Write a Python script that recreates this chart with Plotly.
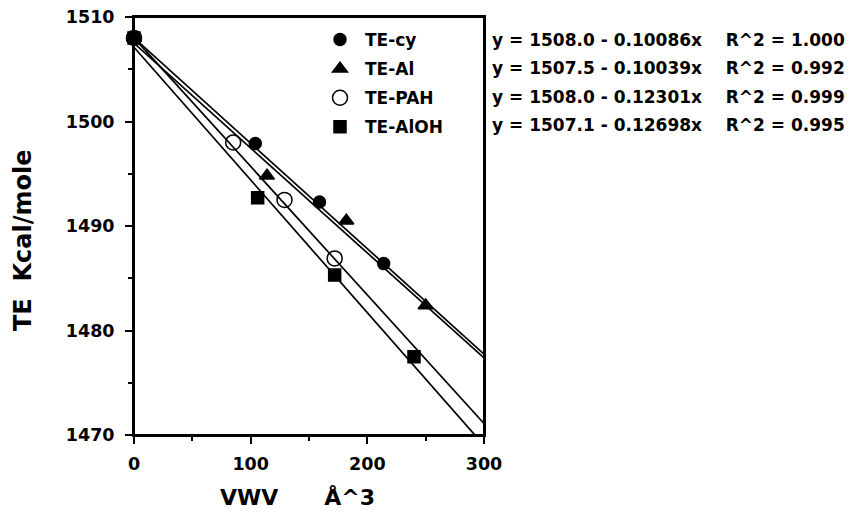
import plotly.graph_objects as go

# ---- data ----
series_names = ["TE-cy", "TE-Al", "TE-PAH", "TE-AlOH"]

cy_x = [0, 104, 159, 214]
cy_y = [1508.0, 1497.9, 1492.3, 1486.4]

al_x = [0, 114, 182, 250]
al_y = [1508.0, 1494.8, 1490.5, 1482.4]

pah_x = [0, 85, 129, 172]
pah_y = [1508.0, 1498.0, 1492.5, 1486.9]

aloh_x = [0, 106, 172, 240]
aloh_y = [1508.0, 1492.7, 1485.3, 1477.5]

intercepts = [1508.0, 1507.5, 1508.0, 1507.1]
slopes = [-0.10086, -0.10039, -0.12301, -0.12698]
r2_values = ["1.000", "0.992", "0.999", "0.995"]

fit_x_range = [0, 300]
x_ticks = [0, 100, 200, 300]
y_ticks = [1470, 1480, 1490, 1500, 1510]

FONT = "DejaVu Sans, sans-serif"

symbols = ["circle", "triangle-up", "circle-open", "square"]
sizes = [12, 13, 15, 12]
xs = [cy_x, al_x, pah_x, aloh_x]
ys = [cy_y, al_y, pah_y, aloh_y]

PW, PH = 350, 418  # plot area size in px
PL, PT = 134, 17   # plot area top-left in page px

fig = go.Figure()

# regression lines
for i in range(4):
    lx = fit_x_range
    ly = [intercepts[i] + slopes[i] * v for v in lx]
    fig.add_trace(go.Scatter(
        x=lx, y=ly, mode="lines",
        line=dict(color="black", width=1.7),
        showlegend=False, hoverinfo="skip",
    ))

# markers (cy drawn last so its filled dot sits on top at x=0)
order = [2, 3, 1, 0]
for i in order:
    fig.add_trace(go.Scatter(
        x=xs[i], y=ys[i], mode="markers",
        name=series_names[i],
        legendgroup=series_names[i],
        legendrank=i + 1,
        marker=dict(symbol=symbols[i], size=sizes[i], color="black",
                    line=dict(color="black", width=1.5)),
        cliponaxis=False,
    ))

# regression equations
row_px = [40, 68, 97, 125]
for i in range(4):
    txt = "y = %.1f - %.5fx    R^2 = %s" % (intercepts[i], -slopes[i], r2_values[i])
    fig.add_annotation(
        xref="paper", yref="paper", x=(490 - PL) / PW, y=1 - (row_px[i] - PT) / PH,
        xanchor="left", yanchor="middle", showarrow=False,
        text="<b>%s</b>" % txt,
        font=dict(family=FONT, size=17, color="black"),
    )

# axis titles
fig.add_annotation(
    xref="paper", yref="paper", x=(218 - PL) / PW, y=-(497 - (PT + PH)) / PH,
    xanchor="left", yanchor="middle", showarrow=False,
    text="<b>VWV      Å^3</b>",
    font=dict(family=FONT, size=22, color="black"),
)
fig.add_annotation(
    xref="paper", yref="paper", x=(23 - PL) / PW, y=1 - (240 - PT) / PH,
    xanchor="center", yanchor="middle", showarrow=False, textangle=-90,
    text="<b>TE  Kcal/mole</b>",
    font=dict(family=FONT, size=24, color="black"),
)

# plot frame
fig.add_shape(type="rect", xref="paper", yref="paper", x0=0, x1=1, y0=0, y1=1,
              line=dict(color="black", width=2), fillcolor="rgba(0,0,0,0)", layer="above")

axis_common = dict(
    showgrid=False, zeroline=False, showline=True, linecolor="black",
    linewidth=2, mirror=True, ticks="outside", tickcolor="black",
    tickwidth=1.5, ticklen=7, ticklabeloverflow="allow",
    tickfont=dict(family=FONT, size=17.5, color="black", weight="bold"),
)

fig.update_xaxes(range=[0, 300], tickvals=x_ticks, ticklabelstandoff=5,
                 minor=dict(dtick=50, ticks="outside", ticklen=4, tickcolor="black", tickwidth=1.5),
                 **axis_common)
fig.update_yaxes(range=[1470, 1510], tickvals=y_ticks, ticklabelstandoff=7,
                 minor=dict(dtick=5, ticks="outside", ticklen=4, tickcolor="black", tickwidth=1.5),
                 **axis_common)

W, H = 852, 514
fig.update_layout(
    width=W, height=H,
    margin=dict(l=PL, r=W - PL - PW, t=PT, b=H - PT - PH, autoexpand=False),
    paper_bgcolor="white", plot_bgcolor="white",
    showlegend=True,
    legend=dict(
        x=(315 - PL) / PW, y=1 - (22 - PT) / PH, xanchor="left", yanchor="top",
        bgcolor="rgba(0,0,0,0)", borderwidth=0,
        traceorder="grouped", tracegroupgap=4, itemwidth=40,
        font=dict(family=FONT, size=17, color="black", weight="bold"),
        itemsizing="trace",
    ),
)

# remove the browser's default 8px body margin so the figure fills the window
fig.write_html(
    "out.html",
    config={"displayModeBar": False},
    post_script="document.body.style.margin='0';document.body.style.overflow='hidden';",
)
